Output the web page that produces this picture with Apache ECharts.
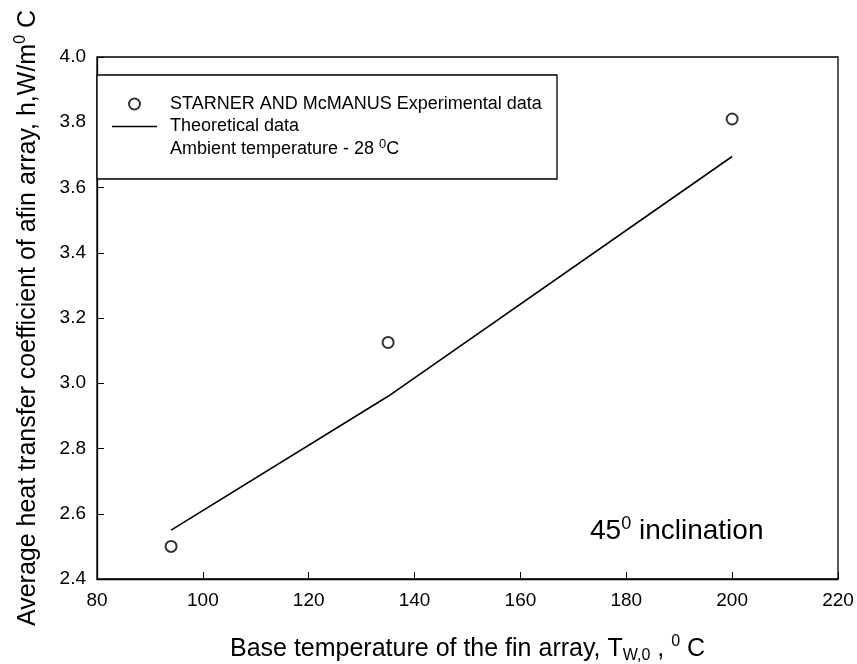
<!DOCTYPE html>
<html>
<head>
<meta charset="utf-8">
<script src="https://cdn.jsdelivr.net/npm/echarts@6/dist/echarts.min.js"></script>
<style>
  html, body { margin: 0; padding: 0; background: #fff; }
  #chart-container { width: 857px; height: 664px; }
</style>
</head>
<body>
<div id="chart-container"></div>
<script>
// data
const expTemp = [94, 135, 200];
const expH = [2.5, 3.125, 3.81];
const theoTemp = [94, 135, 200];
const theoH = [2.55, 2.96, 3.695];

const xTicks = [80, 100, 120, 140, 160, 180, 200, 220];
const yTicks = [2.4, 2.6, 2.8, 3.0, 3.2, 3.4, 3.6, 3.8, 4.0];

const FONT = "'Liberation Sans', Arial, sans-serif";

function renderChart() {
  const dom = document.getElementById("chart-container");
  const chart = echarts.init(dom, null, { renderer: "canvas" });

  // superscript / subscript pieces for the axis titles
  const supStyle = { fontSize: 16, fontFamily: FONT, color: "#000", verticalAlign: "top", lineHeight: 17 };
  const subStyle = { fontSize: 16, fontFamily: FONT, color: "#000", verticalAlign: "bottom", lineHeight: 17 };
  const supSmall = { fontSize: 13, fontFamily: FONT, fill: "#000", verticalAlign: "top", lineHeight: 14 };

  const option = {
    animation: false,
    textStyle: { fontFamily: FONT, color: "#000" },
    grid: {
      left: 97,
      right: 19,
      top: 57,
      bottom: 85,
      outerBoundsMode: "none",
      containLabel: false,
      show: true,
      borderColor: "#000",
      borderWidth: 1.3,
      backgroundColor: "transparent",
    },
    xAxis: {
      type: "value",
      min: xTicks[0],
      max: xTicks[xTicks.length - 1],
      interval: 20,
      name: "Base temperature of the fin array, T{sub|W,0} , {sup|0} C",
      nameLocation: "middle",
      nameGap: 55,
      nameTextStyle: {
        fontSize: 25,
        fontFamily: FONT,
        color: "#000",
        lineHeight: 30,
        rich: { sup: supStyle, sub: subStyle },
      },
      axisLine: { lineStyle: { color: "#000", width: 1.3 } },
      axisTick: { inside: true, length: 7, lineStyle: { color: "#000" } },
      axisLabel: { fontSize: 19, color: "#000", margin: 12, fontFamily: FONT },
      splitLine: { show: false },
    },
    yAxis: {
      type: "value",
      min: yTicks[0],
      max: yTicks[yTicks.length - 1],
      interval: 0.2,
      name: "Average heat transfer coefficient of afin array, h,W/m{sup|0} C",
      nameLocation: "middle",
      nameRotate: 90,
      nameGap: 54,
      nameTextStyle: {
        fontSize: 25,
        fontFamily: FONT,
        color: "#000",
        lineHeight: 30,
        rich: { sup: supStyle },
      },
      axisLine: { lineStyle: { color: "#000", width: 1.3 } },
      axisTick: { inside: true, length: 7, lineStyle: { color: "#000" } },
      axisLabel: {
        fontSize: 19,
        color: "#000",
        margin: 11,
        fontFamily: FONT,
        formatter: (v) => v.toFixed(1),
      },
      splitLine: { show: false },
    },
    legend: {
      orient: "vertical",
      left: 112,
      top: 95,
      z: 10,
      padding: 0,
      itemWidth: 45,
      itemHeight: 11,
      itemGap: 4.5,
      selectedMode: false,
      symbolKeepAspect: true,
      textStyle: {
        fontSize: 18,
        fontFamily: FONT,
        color: "#000",
        lineHeight: 18,
        padding: [0, 0, 0, 8],
      },
      data: [
        { name: "STARNER AND McMANUS Experimental data" },
        // plain line sample, no marker
        { name: "Theoretical data", icon: "path://M0,0 H60 V2 H0 Z" },
      ],
    },
    graphic: [
      {
        type: "rect",
        z: 5,
        shape: { x: 97, y: 75, width: 460, height: 104 },
        style: { fill: "#fff", stroke: "#000", lineWidth: 1.3 },
      },
      {
        type: "text",
        z: 10,
        left: 170,
        top: 138,
        style: {
          text: "Ambient temperature - 28 {sup|0}C",
          font: "18px " + FONT,
          fill: "#000",
          lineHeight: 22,
          rich: { sup: supSmall },
        },
      },
      {
        type: "text",
        z: 10,
        left: 590,
        top: 515,
        style: {
          text: "45{sup|0} inclination",
          font: "28px " + FONT,
          fill: "#000",
          lineHeight: 32,
          rich: {
            sup: { fontSize: 18, fontFamily: FONT, fill: "#000", verticalAlign: "top", lineHeight: 19 },
          },
        },
      },
    ],
    series: [
      {
        name: "STARNER AND McMANUS Experimental data",
        type: "scatter",
        symbol: "emptyCircle",
        symbolSize: 11,
        itemStyle: { color: "#000", borderColor: "#000", borderWidth: 1.4 },
        data: expTemp.map((t, i) => [t, expH[i]]),
        z: 3,
      },
      {
        name: "Theoretical data",
        type: "line",
        symbol: "none",
        showSymbol: false,
        lineStyle: { color: "#000", width: 1.6 },
        itemStyle: { color: "#000" },
        data: theoTemp.map((t, i) => [t, theoH[i]]),
        z: 2,
      },
    ],
  };

  chart.setOption(option);
  return chart;
}

renderChart();
</script>
</body>
</html>
